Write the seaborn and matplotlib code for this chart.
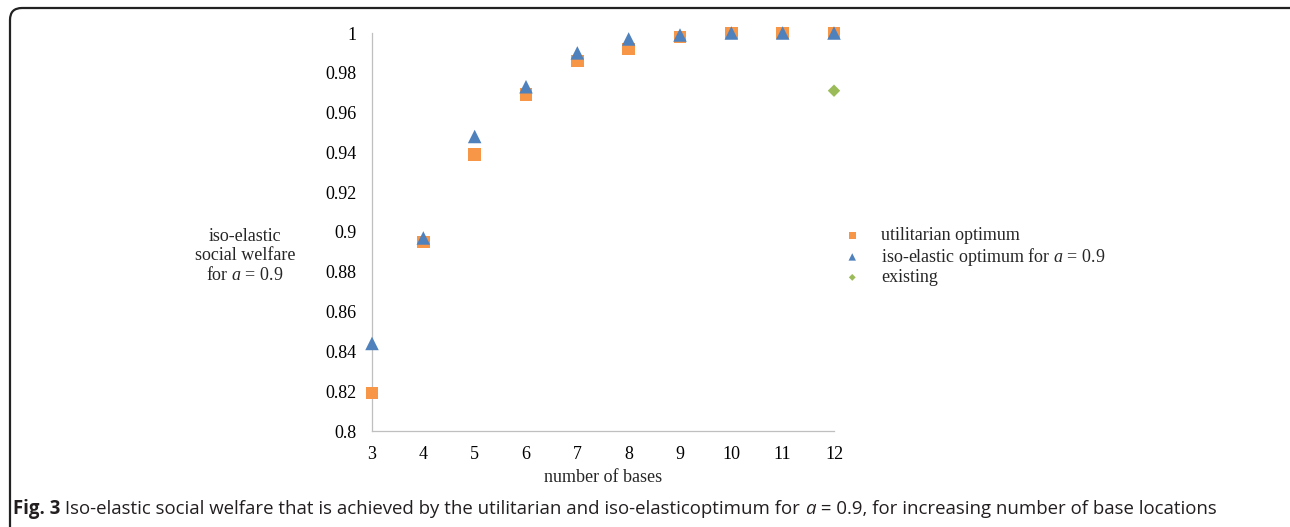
import numpy as np
import pandas as pd
import matplotlib
matplotlib.use("Agg")
import matplotlib.pyplot as plt
import seaborn as sns
from matplotlib.patches import FancyBboxPatch
from matplotlib.ticker import FuncFormatter

# ---- data ----
bases = [3, 4, 5, 6, 7, 8, 9, 10, 11, 12]
utilitarian = [0.819, 0.895, 0.939, 0.969, 0.986, 0.992, 0.998, 1.0, 1.0, 1.0]
isoelastic = [0.844, 0.897, 0.948, 0.973, 0.990, 0.997, 0.999, 1.0, 1.0, 1.0]
existing_x = [12]
existing_y = [0.971]
series_labels = ["utilitarian optimum", "iso-elastic optimum for $a$ = 0.9", "existing"]

sns.set_theme(style="white")
plt.rcParams["font.family"] = ["Liberation Serif", "DejaVu Serif"]
plt.rcParams["mathtext.fontset"] = "custom"
plt.rcParams["mathtext.rm"] = "Liberation Serif"
plt.rcParams["mathtext.it"] = "Liberation Serif:italic"

W, H = 1290, 527
fig = plt.figure(figsize=(12.9, 5.27), dpi=100)

# full-figure overlay axes in pixel coordinates (origin bottom-left) for the border
bg = fig.add_axes([0, 0, 1, 1], zorder=-1)
bg.set_xlim(0, W)
bg.set_ylim(0, H)
bg.axis("off")
box = FancyBboxPatch((10, -30), 1300, H - 8 + 30, boxstyle="round,pad=0,rounding_size=12",
                     fill=False, edgecolor="#222222", linewidth=1.6, clip_on=True)
bg.add_patch(box)

ax = fig.add_axes([372 / W, 1 - 431 / H, (834 - 372) / W, (431 - 33) / H])

orange = "#F79646"
blue = "#4F81BD"
green = "#9BBB59"

df_u = pd.DataFrame({"x": bases, "y": utilitarian})
df_i = pd.DataFrame({"x": bases, "y": isoelastic})
df_e = pd.DataFrame({"x": existing_x, "y": existing_y})

sns.scatterplot(data=df_u, x="x", y="y", marker="s", s=80, color=orange,
                edgecolor="none", ax=ax, label=series_labels[0], zorder=3)
sns.scatterplot(data=df_i, x="x", y="y", marker="^", s=95, color=blue,
                edgecolor="none", ax=ax, label=series_labels[1], zorder=4)
sns.scatterplot(data=df_e, x="x", y="y", marker="D", s=40, color=green,
                edgecolor="none", ax=ax, label=series_labels[2], zorder=4)

ax.set_xlim(3, 12)
ax.set_ylim(0.8, 1.0)
ax.set_xticks(bases)
ax.set_yticks(np.arange(0.8, 1.0001, 0.02))
ax.yaxis.set_major_formatter(FuncFormatter(lambda v, p: f"{round(v, 2):g}"))
ax.tick_params(axis="both", labelsize=13, colors="#BFBFBF", labelcolor="black")
ax.tick_params(axis="y", direction="out", length=5, width=0.8, pad=6)
ax.tick_params(axis="x", direction="in", length=5, width=0.8, pad=11)
for s in ["top", "right"]:
    ax.spines[s].set_visible(False)
for s in ["left", "bottom"]:
    ax.spines[s].set_color("#BFBFBF")
    ax.spines[s].set_linewidth(0.9)
ax.set_xlabel("number of bases", fontsize=13, labelpad=4)
ax.set_ylabel("")
ax.patch.set_alpha(0)
for c in ax.collections:
    c.set_clip_on(False)

leg = ax.legend(loc="upper left", bbox_to_anchor=(836 / W, 1 - 220 / H),
                bbox_transform=fig.transFigure, frameon=False, fontsize=13,
                handletextpad=1.1, labelspacing=0.08, markerscale=0.55,
                borderaxespad=0, handlelength=1.0)

fig.text(245 / W, 1 - 256 / H, "iso-elastic\nsocial welfare\nfor $a$ = 0.9",
         ha="center", va="center", fontsize=13, linespacing=1.15)

# caption
fig.canvas.draw()
renderer = fig.canvas.get_renderer()
parts = [("Fig. 3", dict(family="Open Sans", weight="bold")),
         (" Iso-elastic social welfare that is achieved by the utilitarian and iso-elasticoptimum for ", dict(family="Open Sans")),
         ("a", dict(family="Open Sans", style="italic")),
         (" = 0.9, for increasing number of base locations", dict(family="Open Sans"))]
xpix = 13
ypix = H - 509
for txt, kw in parts:
    t = fig.text(xpix / W, ypix / H, txt, fontsize=13.4, va="center", ha="left",
                 color="#231F20", **kw)
    bb = t.get_window_extent(renderer=renderer)
    xpix += bb.width

fig.savefig("out.png", dpi=100, facecolor="white")
